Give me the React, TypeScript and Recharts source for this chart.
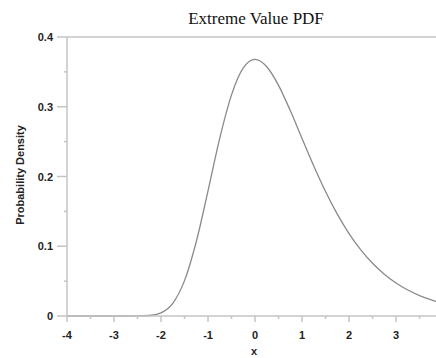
import { Line, LineChart, ReferenceLine, XAxis, YAxis } from 'recharts'

// x positions and density
const xValues = [
  -4, -3.5, -3, -2.75, -2.5, -2.25, -2, -1.75, -1.5, -1.25, -1, -0.75, -0.5, -0.25, 0, 0.25, 0.5, 0.75, 1,
  1.25, 1.5, 1.75, 2, 2.25, 2.5, 2.75, 3, 3.25, 3.5, 3.75, 3.85,
]
const density = [
  0, 0, 0, 0.0000015, 0.00006, 0.0007, 0.0046, 0.0182, 0.0507, 0.1065, 0.1794, 0.2549, 0.317, 0.3556, 0.3679,
  0.3574, 0.3307, 0.2945, 0.2546, 0.2151, 0.1785, 0.146, 0.1182, 0.0948, 0.0756, 0.06, 0.0474, 0.0373, 0.0293,
  0.023, 0.0208,
]
const xTicks = [-4, -3.5, -3, -2.5, -2, -1.5, -1, -0.5, 0, 0.5, 1, 1.5, 2, 2.5, 3, 3.5]
const yTicks = [0, 0.05, 0.1, 0.15, 0.2, 0.25, 0.3, 0.35, 0.4]

const data = xValues.map((x, i) => ({ x, y: density[i] }))

const axisColor = '#c4c4c4'
const labelFont = '"Liberation Sans", Arial, sans-serif'

function XTick({ x, y, payload }: any) {
  const v = payload.value
  const major = Number.isInteger(v)
  return (
    <g>
      <line x1={x} x2={x} y1={y} y2={y + (major ? 6 : 3)} stroke={axisColor} strokeWidth={1.5} />
      {major && (
        <text x={x} y={y + 23} textAnchor="middle" fontFamily={labelFont} fontWeight="bold" fontSize={11} fill="#222">
          {v}
        </text>
      )}
    </g>
  )
}

function YTick({ x, y, payload }: any) {
  const v = payload.value
  const major = Math.abs(v * 10 - Math.round(v * 10)) < 1e-6
  return (
    <g>
      <line x1={x - (major ? 10 : 3)} x2={x} y1={y} y2={y} stroke={axisColor} strokeWidth={1.5} />
      {major && (
        <text x={x - 14} y={y + 4} textAnchor="end" fontFamily={labelFont} fontWeight="bold" fontSize={11} fill="#222">
          {Math.round(v * 10) / 10}
        </text>
      )}
    </g>
  )
}

export default function App() {
  return (
    <div style={{ position: 'absolute', left: 0, top: 0, width: 436, height: 358, background: '#fff' }}>
      <LineChart width={436} height={358} data={data} margin={{ top: 37, right: 0, bottom: 0, left: 7 }}>
        <XAxis
          dataKey="x"
          type="number"
          domain={[-4, 3.85]}
          ticks={xTicks}
          interval={0}
          allowDataOverflow
          height={42}
          stroke={axisColor}
          strokeWidth={1.5}
          tickLine={false}
          tickSize={0}
          tickMargin={0}
          tick={(p: any) => <XTick {...p} />}
        />
        <YAxis
          type="number"
          domain={[0, 0.4]}
          ticks={yTicks}
          interval={0}
          width={60}
          stroke={axisColor}
          strokeWidth={1.5}
          tickLine={false}
          tickSize={0}
          tickMargin={0}
          tick={(p: any) => <YTick {...p} />}
        />
        <ReferenceLine y={0.4} stroke={axisColor} strokeWidth={1.5} />
        <Line
          type="monotone"
          dataKey="y"
          stroke="#8a8a8a"
          strokeWidth={1.3}
          dot={false}
          isAnimationActive={false}
        />
      </LineChart>
      <svg width={436} height={358} style={{ position: 'absolute', left: 0, top: 0, pointerEvents: 'none' }}>
        <text x={256} y={24} textAnchor="middle" fontFamily='"Liberation Serif", "Times New Roman", serif' fontSize={17} fill="#111">
          Extreme Value PDF
        </text>
        <text
          x={24}
          y={175}
          textAnchor="middle"
          transform="rotate(-90, 24, 175)"
          fontFamily={labelFont}
          fontWeight="bold"
          fontSize={11}
          fill="#222"
        >
          Probability Density
        </text>
        <text x={254} y={355} textAnchor="middle" fontFamily={labelFont} fontWeight="bold" fontSize={11} fill="#222">
          x
        </text>
      </svg>
    </div>
  )
}
